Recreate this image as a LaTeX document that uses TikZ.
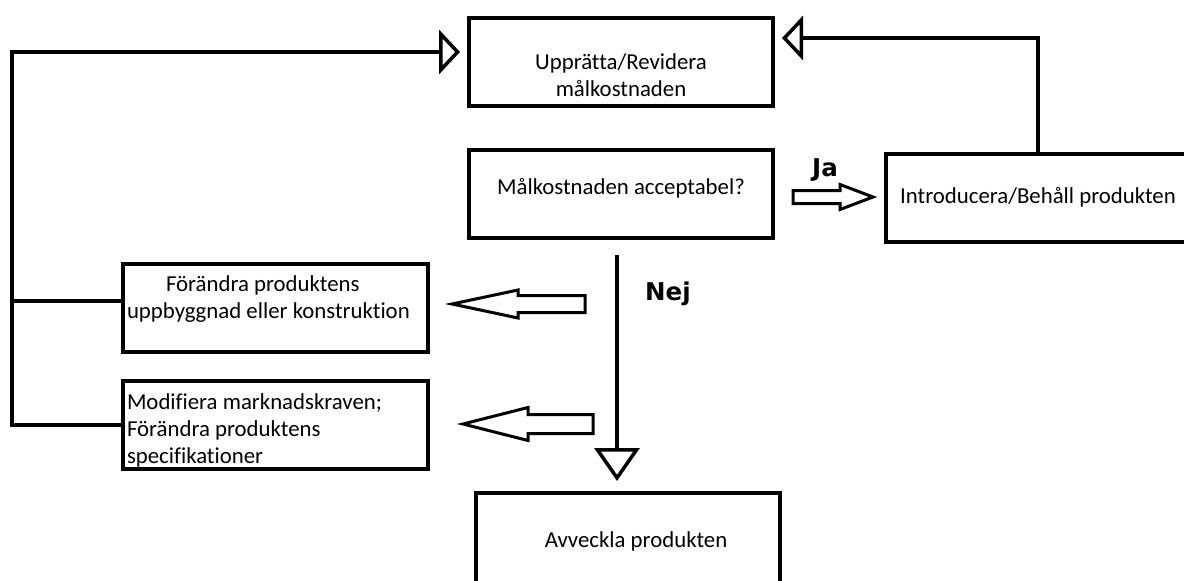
\documentclass[tikz,border=0pt]{standalone}
\usepackage{fontspec}
\setmainfont{Carlito}[Ligatures=NoCommon]
\newfontfamily\answerfont{DejaVu Sans}
\usetikzlibrary{arrows.meta}

\begin{document}
\begin{tikzpicture}[x=1pt, y=-1pt,
      box/.style = {draw, line width=4pt, minimum width=304pt, minimum height=88pt, align=center, inner sep=0pt, font=\fontsize{22.8}{27}\selectfont},
      leftbox/.style = {box, text width=297pt, inner xsep=4pt, align=flush left},
      answer/.style = {font=\answerfont\bfseries\fontsize{24.5}{28}\selectfont, inner sep=0pt, anchor=base west},
      feedback/.style = {line width=3.5pt, -{Triangle[open, length=21pt, width=44pt]}, shorten >=7pt},
      drop/.style = {line width=3.5pt, -{Triangle[open, length=33pt, width=45pt]}, shorten >=10pt},
      blockarrow/.style = {draw, line width=3pt, fill=white, line join=miter}]
  \useasboundingbox (0,0) rectangle (1184,581);

  % boxes
  \node[box] (upp) at (621,61.5) {\rule{0pt}{43pt}Upprätta/Revidera\\målkostnaden};
  \node[box] (mal) at (621,194) {Målkostnaden acceptabel?\rule[-15pt]{0pt}{1pt}};
  \node[box] (intro) at (1038,197.5) {Introducera/Behåll produkten};
  \node[leftbox] (forandra) at (275.5,308) {\hspace*{39pt}Förändra produktens\\uppbyggnad eller konstruktion\rule[-21pt]{0pt}{1pt}};
  \node[leftbox] (modif) at (275.5,425) {\rule{0pt}{27pt}Modifiera marknadskraven;\\Förändra produktens\\specifikationer};
  \node[box, minimum height=96pt] (avv) at (628,541) {\hspace*{16pt}Avveckla produkten};

  % answers
  \node[answer] (ja) at (812,176) {Ja};
  \node[answer] (nej) at (645,300) {Nej};

  % feedback loops
  \coordinate (rail) at (12,52);
  \coordinate (loop) at (1038,38);
  \coordinate (nej-start) at (617,255);
  \draw[feedback] (modif.west) -| (rail) -- (rail -| upp.west);
  \draw[line width=3.5pt] ([shift={(0,-7)}]forandra.west) -- ([shift={(0,-7)}]forandra.west -| rail);
  \draw[feedback] (intro.north) -- (loop) -- (loop -| upp.east);
  \draw[drop] (nej-start) -- (nej-start |- avv.north);

  % block arrows
  \coordinate (ja-tip) at (873,197);
  \coordinate (change-tip) at (452,304);
  \coordinate (modify-tip) at (463,424);
  \draw[blockarrow] (ja-tip) -- ++(-33,-12.5) -- ++(0,6) -- ++(-47,0) -- ++(0,13) -- ++(47,0) -- ++(0,6) -- cycle;
  \draw[blockarrow] (change-tip) -- ++(66,-14) -- ++(0,5.5) -- ++(67,0) -- ++(0,17) -- ++(-67,0) -- ++(0,5.5) -- cycle;
  \draw[blockarrow] (modify-tip) -- ++(65,-16.5) -- ++(0,7) -- ++(65,0) -- ++(0,19) -- ++(-65,0) -- ++(0,7) -- cycle;
\end{tikzpicture}
\end{document}
